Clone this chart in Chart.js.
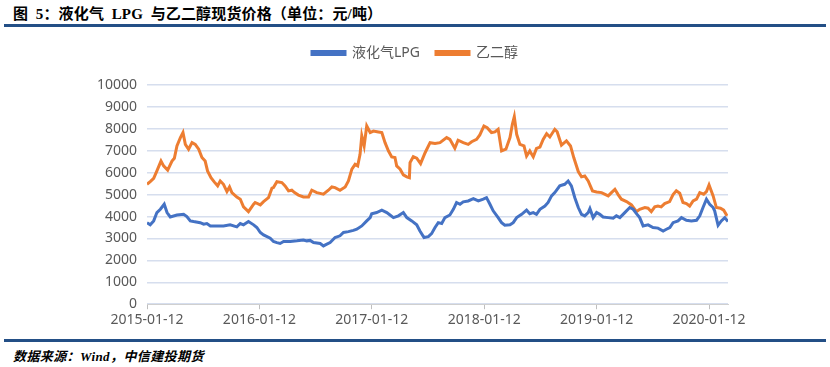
<!DOCTYPE html>
<html>
<head>
<meta charset="utf-8">
<script src="https://cdn.jsdelivr.net/npm/chart.js@4/dist/chart.umd.min.js"></script>
<style>
  body { margin: 0; width: 830px; height: 367px; background: #fff; position: relative; overflow: hidden; }
  #titulo { position: absolute; left: 13px; top: 2px; font: bold 15px "Liberation Serif", "Noto Sans CJK SC", serif; letter-spacing: 0.15px; color: #000; white-space: pre; }
  .regua { position: absolute; left: 4px; width: 822px; height: 3px; background: #234F86; }
  #wrap { position: absolute; left: 0; top: 30px; width: 830px; height: 304px; }
  #fonte { position: absolute; left: 13px; top: 346px; font: italic bold 13px "Liberation Serif", "Noto Sans CJK SC", serif; letter-spacing: 0.4px; color: #000; white-space: nowrap; }
</style>
</head>
<body>
<div id="titulo">图&ensp;5：液化气&ensp;LPG&ensp;与乙二醇现货价格（单位：元/吨）</div>
<div class="regua" style="top:24px"></div>
<div id="wrap"><canvas id="grafico"></canvas></div>
<div class="regua" style="top:339px"></div>
<div id="fonte">数据来源：Wind，中信建投期货</div>

<script>
// rótulos do eixo x (um por ano) e posição em semanas desde 2015-01-12
const tickLabels = ['2015-01-12', '2016-01-12', '2017-01-12', '2018-01-12', '2019-01-12', '2020-01-12'];
const semanasPorAno = 52.18;

// 液化气LPG — semanas desde 2015-01-12 e preço (元/吨)
const lpgWeeks = [
  0, 1.5, 3.1, 4.6, 6.2, 8.0, 9.3, 10.8, 13.9, 17.0, 18.5, 20.1, 21.6, 24.7, 26.3, 27.8, 29.4, 32.5, 35.5, 38.6,
  41.7, 43.3, 44.8, 47.1, 49.5, 51.0, 52.6, 54.1, 57.2, 58.7, 60.3, 61.8, 63.4, 66.5, 69.6, 72.6, 74.2, 75.7, 77.3, 80.4,
  81.9, 83.5, 85.0, 87.3, 89.6, 91.2, 93.5, 95.8, 97.4, 99.7, 102.0, 103.6, 104.3, 106.6, 109.0, 111.3, 112.8, 114.4, 116.7, 119.0,
  120.6, 122.9, 125.2, 126.7, 128.6, 130.6, 132.1, 133.7, 135.2, 136.8, 138.3, 140.6, 142.2, 143.7, 145.3, 146.8, 149.1, 151.5, 153.8, 156.1,
  157.6, 159.2, 160.7, 163.0, 164.6, 166.1, 168.5, 170.0, 171.6, 173.9, 176.2, 177.7, 179.3, 180.8, 182.4, 184.7, 186.2, 187.8, 189.3, 191.6,
  193.9, 195.5, 197.0, 198.6, 200.2, 201.7, 203.2, 204.8, 205.6, 207.1, 208.7, 210.2, 211.7, 214.1, 216.4, 217.9, 219.5, 221.8, 224.1, 225.7,
  227.2, 228.7, 230.3, 232.6, 234.9, 237.2, 239.6, 241.1, 242.7, 244.2, 246.5, 248.1, 250.4, 252.7, 255.1, 256.6, 258.1, 259.7, 261.2, 262.8,
  263.5, 265.1, 266.6, 268.2, 269.7
];
const lpgPrice = [
  3720, 3620, 3800, 4180, 4330, 4560, 4180, 3980, 4070, 4100, 4000, 3800, 3770, 3720, 3650, 3680, 3570, 3570, 3570, 3620,
  3530, 3680, 3620, 3770, 3620, 3500, 3270, 3160, 3010, 2860, 2810, 2770, 2860, 2860, 2890, 2930, 2890, 2910, 2810, 2770,
  2660, 2740, 2810, 3040, 3120, 3270, 3310, 3370, 3420, 3570, 3800, 3950, 4130, 4180, 4290, 4180, 4070, 3950, 4030, 4180,
  3950, 3800, 3620, 3340, 3040, 3080, 3220, 3500, 3720, 3680, 3950, 4070, 4330, 4640, 4560, 4670, 4710, 4820, 4710, 4790,
  4860, 4560, 4260, 3950, 3720, 3600, 3620, 3720, 3950, 4100, 4290, 4130, 4180, 4100, 4330, 4480, 4640, 4940, 5090, 5400,
  5470, 5620, 5400, 4860, 4410, 4100, 4030, 4180, 4360, 3950, 4180, 4100, 3980, 3950, 3920, 4030, 3950, 4180, 4410, 4330,
  4130, 3950, 3570, 3620, 3500, 3470, 3340, 3420, 3500, 3720, 3800, 3950, 3830, 3800, 3830, 4030, 4410, 4790, 4560, 4410,
  4260, 3600, 3800, 3950, 3770
];

// 乙二醇 — semanas desde 2015-01-12 e preço (元/吨)
const megWeeks = [
  0, 1.5, 3.1, 4.6, 6.5, 7.7, 9.6, 11.6, 12.7, 13.9, 15.5, 16.7, 17.8, 19.3, 20.9, 22.4, 24.0, 25.5, 27.0, 28.1,
  29.7, 31.2, 32.8, 34.0, 35.5, 37.1, 38.3, 39.4, 41.7, 43.3, 44.8, 47.1, 49.5, 50.2, 52.6, 54.1, 56.4, 58.0, 58.7, 60.3,
  62.6, 64.1, 65.7, 67.2, 68.5, 70.3, 72.6, 75.0, 76.5, 78.8, 81.9, 84.2, 85.8, 87.3, 89.6, 92.0, 93.5, 95.1, 96.6, 97.8,
  98.9, 99.7, 100.8, 102.0, 103.6, 105.1, 107.4, 109.0, 110.5, 112.1, 113.6, 115.1, 115.9, 117.5, 119.0, 120.6, 121.8,
  122.1, 123.6, 125.2, 127.0, 129.1, 131.4, 133.7, 136.0, 139.1, 140.6, 142.9, 144.4, 146.8, 149.1, 150.7, 153.0, 154.5, 156.4, 157.9, 159.9,
  161.5, 163.0, 164.6, 166.6, 168.5, 169.6, 170.5, 171.6, 173.1, 175.0, 176.2, 177.7, 179.3, 180.8, 182.4, 183.9, 185.5, 187.0, 189.3, 190.4,
  192.4, 194.7, 196.6, 198.1, 200.2, 201.7, 203.2, 204.8, 206.8, 208.7, 211.0, 214.1, 215.6, 217.2, 218.7, 220.2, 222.6, 224.9, 227.2, 228.7,
  231.1, 232.6, 234.1, 235.7, 237.2, 238.7, 240.3, 242.6, 244.2, 245.7, 247.3, 248.8, 250.4, 251.9, 253.5, 255.1, 256.6, 258.4, 259.7, 260.9,
  262.8, 264.3, 266.2, 267.7, 269.3
];
const megPrice = [
  5470, 5590, 5740, 6080, 6530, 6310, 6120, 6530, 6660, 7220, 7600, 7830, 7290, 7070, 7370, 7290, 7070, 6690, 6530, 6080,
  5770, 5580, 5400, 5620, 5470, 5140, 5350, 5090, 4890, 4790, 4440, 4220, 4560, 4640, 4530, 4680, 4860, 5290, 5320, 5590,
  5550, 5400, 5170, 5200, 5090, 4980, 4890, 4890, 5200, 5090, 5020, 5200, 5350, 5320, 5200, 5350, 5620, 6160, 6380, 6310,
  6840, 7680, 7220, 8130, 7830, 7900, 7860, 7830, 7370, 6990, 6720, 6690, 6310, 6160, 5900, 5810, 5770,
  6460, 6730, 6660, 6410, 6910, 7370, 7330, 7370, 7600, 7520, 7110, 7480, 7370, 7290, 7410, 7520, 7720, 8130, 8050, 7830,
  7860, 7980, 6990, 7070, 7600, 8210, 8560, 7750, 7290, 7220, 6760, 6990, 6720, 7110, 7170, 7520, 7780, 7630, 7980, 7870,
  7260, 7450, 7220, 6690, 6050, 5810, 5850, 5620, 5170, 5120, 5090, 4940, 5090, 5240, 5000, 4790, 4680, 4530, 4220, 4330,
  4410, 4380, 4220, 4440, 4480, 4440, 4590, 4680, 5000, 5170, 5060, 4640, 4590, 4480, 4710, 4790, 5090, 5020, 5140, 5440,
  4940, 4410, 4380, 4290, 4030
];

// junta semana + preço no formato {x, y} que o Chart.js espera
const pontos = (semanas, precos) => semanas.map((s, i) => ({ x: s, y: precos[i] }));

const corTexto = '#595959';
Chart.defaults.font.family = "'Noto Sans', 'Noto Sans CJK SC', sans-serif";
Chart.defaults.font.size = 14;
Chart.defaults.color = corTexto;

// legenda: espaço extra embaixo e centralizada na largura toda do canvas
// (sem isso ela fica centrada só na área à esquerda do padding direito)
const ajusteLegenda = {
  id: 'ajusteLegenda',
  beforeInit(chart) {
    const fitOriginal = chart.legend.fit;
    chart.legend.fit = function () {
      fitOriginal.bind(chart.legend)();
      this.height += 15;
    };
  },
  afterLayout(chart) {
    chart.legend.right = chart.width;
  }
};

new Chart(document.getElementById('grafico'), {
  type: 'line',
  data: {
    datasets: [
      {
        label: '液化气LPG',
        data: pontos(lpgWeeks, lpgPrice),
        borderColor: '#4472C4',
        backgroundColor: '#4472C4',
        borderWidth: 3,
        pointRadius: 0,
        tension: 0,
      },
      {
        label: '乙二醇',
        data: pontos(megWeeks, megPrice),
        borderColor: '#ED7D31',
        backgroundColor: '#ED7D31',
        borderWidth: 3,
        pointRadius: 0,
        tension: 0,
      }
    ]
  },
  plugins: [ajusteLegenda],
  options: {
    responsive: true,
    maintainAspectRatio: false,
    animation: false,
    layout: { padding: { left: 0, right: 102, top: 0, bottom: 4 } },
    plugins: {
      legend: {
        position: 'top',
        labels: { boxWidth: 33, boxHeight: 3, padding: 16, color: corTexto, font: { size: 14 } }
      },
      tooltip: { enabled: false }
    },
    scales: {
      x: {
        type: 'linear',
        min: 0,
        max: 269.7,
        // um tick por ano, rotulado com a data
        afterBuildTicks: scale => {
          scale.ticks = tickLabels.map((_, i) => ({ value: i * semanasPorAno }));
        },
        ticks: {
          autoSkip: false,
          maxRotation: 0,
          padding: 2,
          color: corTexto,
          callback: (valor, i) => tickLabels[i]
        },
        grid: { drawOnChartArea: false, tickLength: 5, color: '#BFBFBF' },
        border: { color: '#D0D0D0' }
      },
      y: {
        min: 0,
        max: 10000,
        afterFit: scale => { scale.width = 147; },
        ticks: { stepSize: 1000, padding: 10, color: corTexto, callback: valor => String(valor) },
        grid: { color: '#D6DEEE', lineWidth: 1.5, drawTicks: false },
        border: { display: false }
      }
    }
  }
});
</script>
</body>
</html>
